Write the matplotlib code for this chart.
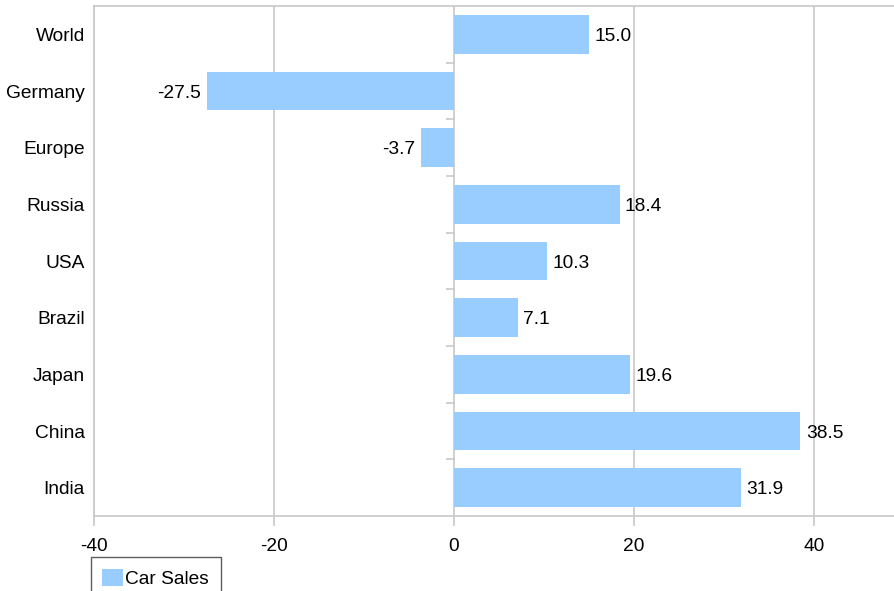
import matplotlib
matplotlib.use("Agg")
import matplotlib.pyplot as plt
from matplotlib.lines import TICKLEFT
import numpy as np

plt.rcParams['font.family'] = ['Liberation Sans', 'DejaVu Sans']
plt.rcParams['axes.unicode_minus'] = False

countries = ['World', 'Germany', 'Europe', 'Russia', 'USA', 'Brazil', 'Japan', 'China', 'India']
sales = [15.0, -27.5, -3.7, 18.4, 10.3, 7.1, 19.6, 38.5, 31.9]
xticks = [-40, -20, 0, 20, 40]

bar_col = '#99ccff'
grey = '#c8c8c8'
fs = 13.8

fig = plt.figure(figsize=(8.95, 5.91), dpi=100)
ax = fig.add_axes([94 / 895, 1 - 516 / 591, 1 - 94 / 895, 510 / 591])

ypos = np.arange(len(countries))
ax.barh(ypos, sales, height=0.68, color=bar_col, zorder=3, label='Car Sales')

for y, v in zip(ypos, sales):
    if v >= 0:
        ax.text(v + 0.6, y, f'{v:.1f}', ha='left', va='center_baseline', fontsize=fs, zorder=4)
    else:
        ax.text(v - 0.6, y, f'{v:.1f}', ha='right', va='center_baseline', fontsize=fs, zorder=4)

ax.set_xlim(-40, 49)
ax.set_ylim(len(countries) - 0.5, -0.5)
ax.set_xticks(xticks)
ax.set_yticks(ypos)
ax.set_yticklabels(countries, fontsize=fs)
ax.tick_params(axis='y', length=0, pad=6.5)
ax.tick_params(axis='x', length=7, color=grey, width=1.2, labelsize=fs, pad=9)

ax.grid(axis='x', color=grey, lw=1.2, zorder=0)
ax.set_axisbelow(True)
for s in ['left', 'bottom', 'top']:
    ax.spines[s].set_color(grey)
    ax.spines[s].set_linewidth(1.2)
ax.spines['right'].set_visible(False)

# category axis sits on zero, with ticks between the rows
bounds = np.arange(len(countries) - 1) + 0.5
ax.plot(np.zeros_like(bounds), bounds, ls='none', marker=TICKLEFT,
        markersize=6, mew=1.2, color=grey, clip_on=False, zorder=2)

leg = fig.legend(loc='upper left', bbox_to_anchor=(91 / 895, 1 - 557 / 591),
                 fontsize=fs, frameon=True, fancybox=False, handlelength=1.05,
                 handleheight=1.05, handletextpad=0.15, borderpad=0.6,
                 borderaxespad=0)
leg.get_frame().set_edgecolor('#333333')
leg.get_frame().set_linewidth(1.0)

fig.savefig('out.png', dpi=100)
